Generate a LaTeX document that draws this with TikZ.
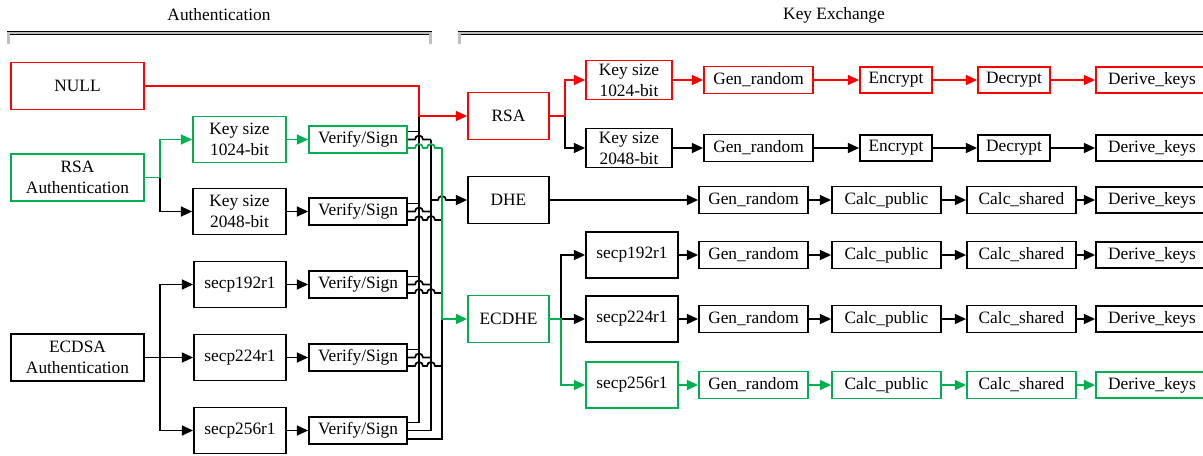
\documentclass[tikz,border=0pt]{standalone}
\usepackage{fontspec}
\setmainfont{Liberation Serif}
\usepackage{tikz}
\usetikzlibrary{calc,arrows.meta}
\definecolor{vert}{RGB}{0,176,80}
\tikzstyle{bloc} = [rectangle, draw=black, line width=1.3pt, align=center, inner sep=0pt]
\tikzstyle{auth} = [bloc, minimum width=99.75pt, minimum height=35.25pt]
\tikzstyle{taille} = [bloc, minimum width=69.75pt, minimum height=34.5pt]
\tikzstyle{courbe} = [bloc, minimum width=69pt, minimum height=34.5pt]
\tikzstyle{verif} = [bloc, minimum width=73.5pt, minimum height=20.25pt]
\tikzstyle{echange} = [bloc, minimum width=60.75pt, minimum height=35.25pt]
\tikzstyle{tailleR} = [bloc, minimum width=64.5pt, minimum height=29.25pt]
\tikzstyle{etape} = [bloc, minimum width=81.75pt, minimum height=20.25pt]
\tikzstyle{court} = [bloc, minimum width=54pt, minimum height=19.5pt]
\tikzstyle{derive} = [bloc, minimum width=84pt, minimum height=19.5pt]
\tikzstyle{trait} = [line width=1.3pt]
\tikzstyle{fleche} = [trait, -{Triangle[length=8.5pt,width=7.5pt]}]
\tikzstyle{crochet} = [draw=black, line width=0.6pt, double=gray!50, double distance=1.6pt]

\begin{document}
\begin{tikzpicture}[x=0.75pt, y=-0.75pt, every node/.style={font=\fontsize{13}{15.75}\selectfont}]

        \useasboundingbox (0,0) rectangle (1203,455);

        %% titles
        \node (auth) at (219,15) {Authentication};
        \node (kex) at (834,15) {Key Exchange};
        \draw[crochet] (8.5,44) -- (8.5,33) -- (430.5,33) -- (430.5,44);
        \draw[crochet] (459.5,44) -- (459.5,33) -- (1212,33);

        %% authentication
        \node (null) [auth, draw=red] at (77.5,86) {NULL};
        \node (ra) [auth, draw=vert] at (77.5,177.5) {RSA\\Authentication};
        \node (ea) [auth] at (77.5,357.5) {ECDSA\\Authentication};

        \node (k1) [taille, draw=vert] at (239.5,139.5) {Key size\\1024-bit};
        \node (k2) [taille] at (239.5,211.5) {Key size\\2048-bit};
        \node (c1) [courbe] at (240,284.5) {secp192r1};
        \node (c2) [courbe] at (240,357.5) {secp224r1};
        \node (c3) [courbe] at (240,430.5) {secp256r1};

        \node (v1) [verif, draw=vert] at (358,139.5) {Verify/Sign};
        \node (v2) [verif] at (358,211.5) {Verify/Sign};
        \node (v3) [verif] at (358,284.5) {Verify/Sign};
        \node (v4) [verif] at (358,357.5) {Verify/Sign};
        \node (v5) [verif] at (358,430.5) {Verify/Sign};

        %% key exchange
        \node (rsa) [echange, draw=red] at (508.5,116) {RSA};
        \node (dhe) [echange] at (508.5,200) {DHE};
        \node (ecdhe) [echange, draw=vert] at (508.5,319) {ECDHE};

        \node (kr1) [tailleR, draw=red] at (629,80) {Key size\\1024-bit};
        \node (kr2) [tailleR] at (629,148) {Key size\\2048-bit};
        \node (sr1) [courbe] at (632,255) {secp192r1};
        \node (sr2) [courbe] at (632,319) {secp224r1};
        \node (sr3) [courbe, draw=vert] at (632,385) {secp256r1};

        \foreach \i/\y/\c/\src in {1/80/red/kr1, 2/148/black/kr2} {
            \node (g\i) [etape, draw=\c] at (758.5,\y) {Gen\_random};
            \node (e\i) [court, draw=\c] at (896,\y) {Encrypt};
            \node (d\i) [court, draw=\c] at (1014,\y) {Decrypt};
            \node (f\i) [derive, draw=\c] at (1152,\y) {Derive\_keys};
            \draw[fleche, \c] (\src) -- (g\i);
            \draw[fleche, \c] (g\i) -- (e\i);
            \draw[fleche, \c] (e\i) -- (d\i);
            \draw[fleche, \c] (d\i) -- (f\i);
        }
        \foreach \i/\y/\c/\src in {3/200/black/dhe, 4/255/black/sr1, 5/319/black/sr2, 6/385/vert/sr3} {
            \node (g\i) [etape, draw=\c] at (753.5,\y) {Gen\_random};
            \node (p\i) [etape, draw=\c] at (886.5,\y) {Calc\_public};
            \node (s\i) [etape, draw=\c] at (1021.5,\y) {Calc\_shared};
            \node (f\i) [derive, draw=\c] at (1152,\y) {Derive\_keys};
            \draw[fleche, \c] (\src) -- (g\i);
            \draw[fleche, \c] (g\i) -- (p\i);
            \draw[fleche, \c] (p\i) -- (s\i);
            \draw[fleche, \c] (s\i) -- (f\i);
        }

        %% branches
        \coordinate (jra) at (160,177.5);
        \coordinate (jea) at (160,357.5);
        \coordinate (jrsa) at (565,116);
        \coordinate (jec) at (561,319);

        \draw[fleche] (jra) |- (k2.west);
        \draw[fleche, vert] (ra.east) -- (jra) |- (k1.west);
        \draw[fleche] (ea.east) -- (c2.west);
        \draw[fleche] (jea) |- (c1.west);
        \draw[fleche] (jea) |- (c3.west);

        \draw[fleche, vert] (k1) -- (v1);
        \draw[fleche] (k2) -- (v2);
        \draw[fleche] (c1) -- (v3);
        \draw[fleche] (c2) -- (v4);
        \draw[fleche] (c3) -- (v5);

        \draw[fleche] (jrsa) |- (kr2.west);
        \draw[fleche, red] (rsa.east) -- (jrsa) |- (kr1.west);
        \draw[fleche] (jec) |- (sr1.west);
        \draw[fleche] (jec) -- (sr2.west);
        \draw[fleche, vert] (ecdhe.east) -- (jec) |- (sr3.west);

        %% buses
        \coordinate (bA) at (419,116);
        \coordinate (bB) at (431,200);
        \coordinate (bC) at (442,319);
        \foreach \v in {v1,v2,v3,v4,v5} {
            \coordinate (oa\v) at ($(\v.east)+(0,-8)$);
            \coordinate (ob\v) at (\v.east);
            \coordinate (oc\v) at ($(\v.east)+(0,8.5)$);
        }

        \draw[trait] (oav5) -- (oav5 -| bA) -- (bA);
        \draw[trait] (obv5) -- (obv5 -| bB) -- (obv1 -| bB);
        \draw[trait] (ocv5) -- (ocv5 -| bC) -- (bC);

        \foreach \v/\c in {v1/vert, v2/black, v3/black, v4/black} {
            \draw[trait] (oa\v) -- (oa\v -| bA);
            \draw[trait] (ob\v) -- ($(ob\v -| bA)+(-4,0)$) arc[start angle=180, end angle=0, radius=3pt] -- (ob\v -| bB);
            \draw[trait, \c] (oc\v) -- ($(oc\v -| bA)+(-4,0)$) arc[start angle=180, end angle=0, radius=3pt]
                -- ($(oc\v -| bB)+(-4,0)$) arc[start angle=180, end angle=0, radius=3pt] -- (oc\v -| bC);
        }

        \draw[fleche, red] (null.east) -| (bA) -- (rsa.west);
        \draw[fleche] (bB) -- ($(bB -| bC)+(-4,0)$) arc[start angle=180, end angle=0, radius=3pt] -- (dhe.west);
        \draw[fleche, vert] (ocv1 -| bC) -- (bC) -- (ecdhe.west);

    \end{tikzpicture}
\end{document}
